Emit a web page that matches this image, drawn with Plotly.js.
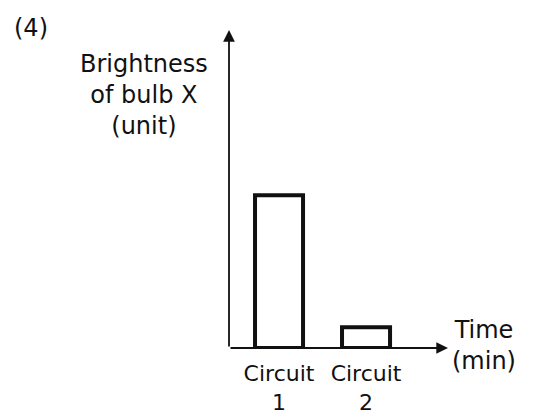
<!DOCTYPE html>
<html>
<head>
<meta charset="utf-8">
<script src="https://cdn.plot.ly/plotly-3.0.1.min.js"></script>
<style>html,body{margin:0;padding:0;background:#fff;}#chart{width:533px;height:417px;}</style>
</head>
<body>
<div id="chart"></div>
<script>
// ---- data ----
const categories = ["Circuit 1", "Circuit 2"];
const tickLabels = ["Circuit<br>1", "Circuit<br>2"];
const brightness = [4.8, 0.65];
const yTitleLines = ["Brightness", "of bulb X", "(unit)"];
const xTitleLines = ["Time", "(min)"];
const panelLabel = "(4)";

// ---- layout geometry ----
const W = 533, H = 417;
const M = {l: 229, r: 85, t: 30, b: 69};
const PW = W - M.l - M.r, PH = H - M.t - M.b;
const px = v => (v - M.l) / PW;
const py = v => (H - M.b - v) / PH;
const font = {family: "DejaVu Sans", size: 24, color: "#111"};

const trace = {
  type: "bar",
  x: [0, 1],
  y: brightness,
  width: 0.552,
  marker: {color: "#fff", line: {color: "#111", width: 4}},
  hoverinfo: "skip",
  cliponaxis: false
};

const layout = {
  width: W, height: H,
  margin: M,
  paper_bgcolor: "#fff", plot_bgcolor: "#fff",
  showlegend: false,
  font: font,
  xaxis: {
    range: [-0.575, 1.942],
    tickmode: "array", tickvals: [0, 1], ticktext: tickLabels,
    showgrid: false, zeroline: false, showline: false, ticks: "",
    ticklabelstandoff: 10,
    tickfont: {family: "DejaVu Sans", size: 22, color: "#111"}, fixedrange: true
  },
  yaxis: {
    range: [0, 10],
    showgrid: false, zeroline: false, showline: false, showticklabels: false, ticks: "",
    fixedrange: true
  },
  annotations: [
    {xref: "paper", yref: "paper", x: 0, y: 1, ax: 0, ay: PH, axref: "pixel", ayref: "pixel",
     text: "", showarrow: true, arrowhead: 2, arrowsize: 1.3, arrowwidth: 1.8, arrowcolor: "#111"},
    {xref: "paper", yref: "paper", x: 1, y: 0, ax: -PW, ay: 0, axref: "pixel", ayref: "pixel",
     text: "", showarrow: true, arrowhead: 2, arrowsize: 1.3, arrowwidth: 1.8, arrowcolor: "#111"},
    {xref: "paper", yref: "paper", x: px(31), y: py(28), text: panelLabel, showarrow: false,
     xanchor: "center", yanchor: "middle", font: font},
    {xref: "paper", yref: "paper", x: px(144), y: py(95), text: yTitleLines.join("<br>"), showarrow: false,
     xanchor: "center", yanchor: "middle", align: "center", font: font},
    {xref: "paper", yref: "paper", x: px(484), y: py(345), text: xTitleLines.join("<br>"), showarrow: false,
     xanchor: "center", yanchor: "middle", align: "center", font: font}
  ]
};

Plotly.newPlot("chart", [trace], layout, {staticPlot: true, displayModeBar: false});
</script>
</body>
</html>
